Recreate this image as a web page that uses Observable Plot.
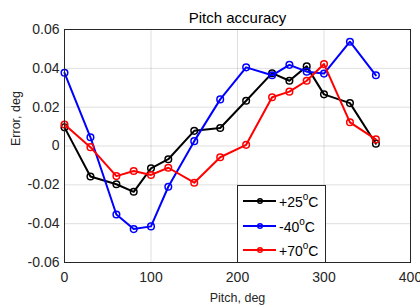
<!DOCTYPE html>
<html><head><meta charset="utf-8">
<script src="https://cdn.jsdelivr.net/npm/d3@7"></script>
<script src="https://cdn.jsdelivr.net/npm/@observablehq/plot@0.6"></script>
<style>
body{margin:0;background:#fff;}
#wrap{position:relative;width:420px;height:307px;font-family:"Liberation Sans",Arial,sans-serif;}
#legend{position:absolute;left:237px;top:185px;width:89px;height:78px;box-sizing:border-box;border:1px solid #262626;background:#fff;}
.row{position:absolute;left:0;height:20px;display:flex;align-items:center;}
.row svg{margin-left:5px;}
.row span{margin-left:2px;font-size:14px;color:#000;white-space:nowrap;}
.row sup{font-size:10px;position:relative;top:-1px;}
</style></head>
<body>
<div id="wrap"></div>
<script>
const pitch = [0,30,60,80,100,120,150,180,210,240,260,280,300,330,360];
const err25 = [0.0096,-0.0157,-0.0197,-0.0236,-0.0115,-0.0068,0.0078,0.0093,0.0233,0.0375,0.0336,0.0410,0.0266,0.0221,0.0012];
const errM40 = [0.0377,0.0045,-0.0353,-0.0428,-0.0414,-0.0210,0.0025,0.0240,0.0405,0.0364,0.0418,0.0383,0.0373,0.0537,0.0364];
const err70 = [0.0111,-0.0006,-0.0155,-0.0129,-0.0149,-0.0112,-0.0189,-0.0058,0.0006,0.0251,0.0280,0.0336,0.0422,0.0122,0.0034];
const seriesNames = ["+25", "-40", "+70"];
const seriesColors = ["#000000", "#0000ff", "#ff0000"];
const xTicks = [0,100,200,300,400];
const yTicks = [-0.06,-0.04,-0.02,0,0.02,0.04,0.06];

const allSeries = [err25, errM40, err70];
const marks = [];
marks.push(Plot.gridX(xTicks, {stroke:"#262626", strokeOpacity:0.15}));
marks.push(Plot.gridY(yTicks, {stroke:"#262626", strokeOpacity:0.15}));
allSeries.forEach((vals, i) => {
  const rows = pitch.map((p, j) => ({pitch: p, err: vals[j]}));
  marks.push(Plot.line(rows, {x:"pitch", y:"err", stroke: seriesColors[i], strokeWidth:2}));
  marks.push(Plot.dot(rows, {x:"pitch", y:"err", stroke: seriesColors[i], fill:"none", r:3.3, strokeWidth:1.5}));
});
marks.push(Plot.frame({stroke:"#262626"}));
marks.push(Plot.axisX(xTicks, {tickSize:0, tickPadding:10, fontSize:14, fill:"#262626", label:null, tickFormat: d => String(d)}));
marks.push(Plot.axisY(yTicks, {tickSize:0, tickPadding:5, fontSize:14, fill:"#262626", label:null, tickFormat: d => d === 0 ? "0" : d.toFixed(2)}));
marks.push(Plot.text(["Pitch accuracy"], {text: d => d, frameAnchor:"top", lineAnchor:"middle", dy:-11, fontSize:15, fill:"#000"}));
marks.push(Plot.text(["Pitch, deg"], {text: d => d, frameAnchor:"bottom", lineAnchor:"middle", dy:35, fontSize:12.5, fill:"#262626"}));
marks.push(Plot.text(["Error, deg"], {text: d => d, frameAnchor:"left", lineAnchor:"middle", dx:-49, rotate:-90, fontSize:12.5, fill:"#262626"}));

const chart = Plot.plot({
  width:420, height:307,
  marginLeft:64, marginRight:10, marginTop:29, marginBottom:45,
  x:{domain:[0,400]},
  y:{domain:[-0.06,0.06]},
  style:{fontFamily:"'Liberation Sans', Arial, sans-serif", background:"white"},
  marks
});
const wrap = document.getElementById("wrap");
wrap.appendChild(chart);

const legend = document.createElement("div");
legend.id = "legend";
const rowTops = [5, 29.5, 54];
seriesNames.forEach((name, i) => {
  const row = document.createElement("div");
  row.className = "row";
  row.style.top = rowTops[i] + "px";
  const c = seriesColors[i];
  row.innerHTML = `<svg width="34" height="10"><line x1="0" y1="5" x2="33" y2="5" stroke="${c}" stroke-width="2"/><circle cx="17" cy="5" r="2.3" fill="none" stroke="${c}" stroke-width="1.5"/></svg><span>${name}<sup>o</sup>C</span>`;
  legend.appendChild(row);
});
wrap.appendChild(legend);
</script>
</body></html>
